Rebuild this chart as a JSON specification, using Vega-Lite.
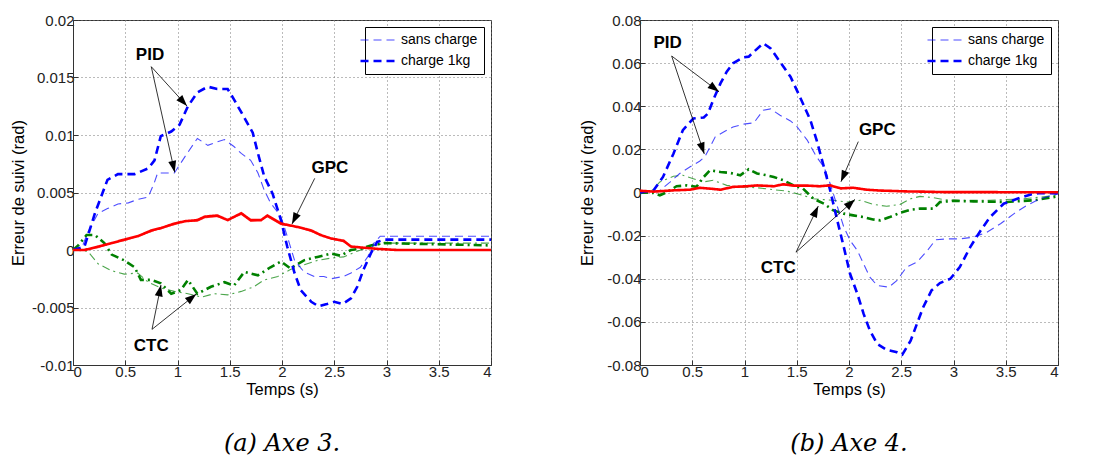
{
"$schema": "https://vega.github.io/schema/vega-lite/v6.json",
"padding": {"left": 9, "top": 12, "right": 0, "bottom": 0},
"background": "white",
"spacing": 82,
"config": {
  "view": {"stroke": "#333", "strokeWidth": 1},
  "axis": {"labelFont": "Liberation Sans", "labelFontSize": 15, "labelColor": "#222", "titleFont": "Liberation Sans", "titleFontSize": 16.5, "titleFontWeight": "normal", "titleColor": "#000", "domainColor": "#333", "tickColor": "#333", "tickSize": -5, "labelPadding": 4, "gridColor": "#777", "gridDash": [1, 3], "gridOpacity": 1, "gridWidth": 1}
},
"datasets": {
"a": [
{"ctrl":"CTC","charge":"charge 1kg","t":0,"e":0},{"ctrl":"CTC","charge":"charge 1kg","t":0.05,"e":0.0004},{"ctrl":"CTC","charge":"charge 1kg","t":0.13,"e":0.0013},{"ctrl":"CTC","charge":"charge 1kg","t":0.21,"e":0.0013},{"ctrl":"CTC","charge":"charge 1kg","t":0.3,"e":0.0006},{"ctrl":"CTC","charge":"charge 1kg","t":0.37,"e":-0.0004},{"ctrl":"CTC","charge":"charge 1kg","t":0.49,"e":-0.0009},{"ctrl":"CTC","charge":"charge 1kg","t":0.59,"e":-0.0015},{"ctrl":"CTC","charge":"charge 1kg","t":0.65,"e":-0.0026},{"ctrl":"CTC","charge":"charge 1kg","t":0.75,"e":-0.0026},{"ctrl":"CTC","charge":"charge 1kg","t":0.84,"e":-0.0029},{"ctrl":"CTC","charge":"charge 1kg","t":0.94,"e":-0.0038},{"ctrl":"CTC","charge":"charge 1kg","t":1.03,"e":-0.0035},{"ctrl":"CTC","charge":"charge 1kg","t":1.1,"e":-0.0026},{"ctrl":"CTC","charge":"charge 1kg","t":1.19,"e":-0.0038},{"ctrl":"CTC","charge":"charge 1kg","t":1.32,"e":-0.0032},{"ctrl":"CTC","charge":"charge 1kg","t":1.45,"e":-0.0028},{"ctrl":"CTC","charge":"charge 1kg","t":1.54,"e":-0.0031},{"ctrl":"CTC","charge":"charge 1kg","t":1.64,"e":-0.0019},{"ctrl":"CTC","charge":"charge 1kg","t":1.77,"e":-0.0022},{"ctrl":"CTC","charge":"charge 1kg","t":1.89,"e":-0.0015},{"ctrl":"CTC","charge":"charge 1kg","t":1.99,"e":-0.001},{"ctrl":"CTC","charge":"charge 1kg","t":2.08,"e":-0.0016},{"ctrl":"CTC","charge":"charge 1kg","t":2.21,"e":-0.0009},{"ctrl":"CTC","charge":"charge 1kg","t":2.34,"e":-0.0006},{"ctrl":"CTC","charge":"charge 1kg","t":2.47,"e":-0.0003},{"ctrl":"CTC","charge":"charge 1kg","t":2.56,"e":-0.0005},{"ctrl":"CTC","charge":"charge 1kg","t":2.66,"e":0},{"ctrl":"CTC","charge":"charge 1kg","t":2.75,"e":0.0001},{"ctrl":"CTC","charge":"charge 1kg","t":2.85,"e":0.0004},{"ctrl":"CTC","charge":"charge 1kg","t":2.98,"e":0.0006},{"ctrl":"CTC","charge":"charge 1kg","t":4,"e":0.0004},
{"ctrl":"CTC","charge":"sans charge","t":0,"e":0},{"ctrl":"CTC","charge":"sans charge","t":0.14,"e":-0.0001},{"ctrl":"CTC","charge":"sans charge","t":0.24,"e":-0.0012},{"ctrl":"CTC","charge":"sans charge","t":0.37,"e":-0.0018},{"ctrl":"CTC","charge":"sans charge","t":0.49,"e":-0.0021},{"ctrl":"CTC","charge":"sans charge","t":0.62,"e":-0.002},{"ctrl":"CTC","charge":"sans charge","t":0.72,"e":-0.0028},{"ctrl":"CTC","charge":"sans charge","t":0.84,"e":-0.0033},{"ctrl":"CTC","charge":"sans charge","t":0.97,"e":-0.0036},{"ctrl":"CTC","charge":"sans charge","t":1.1,"e":-0.0038},{"ctrl":"CTC","charge":"sans charge","t":1.23,"e":-0.0041},{"ctrl":"CTC","charge":"sans charge","t":1.35,"e":-0.0038},{"ctrl":"CTC","charge":"sans charge","t":1.48,"e":-0.0039},{"ctrl":"CTC","charge":"sans charge","t":1.61,"e":-0.0036},{"ctrl":"CTC","charge":"sans charge","t":1.73,"e":-0.0032},{"ctrl":"CTC","charge":"sans charge","t":1.83,"e":-0.0026},{"ctrl":"CTC","charge":"sans charge","t":1.96,"e":-0.0023},{"ctrl":"CTC","charge":"sans charge","t":2.08,"e":-0.0017},{"ctrl":"CTC","charge":"sans charge","t":2.21,"e":-0.0013},{"ctrl":"CTC","charge":"sans charge","t":2.34,"e":-0.0009},{"ctrl":"CTC","charge":"sans charge","t":2.47,"e":-0.0007},{"ctrl":"CTC","charge":"sans charge","t":2.59,"e":-0.0006},{"ctrl":"CTC","charge":"sans charge","t":2.72,"e":-0.0001},{"ctrl":"CTC","charge":"sans charge","t":2.85,"e":0.0003},{"ctrl":"CTC","charge":"sans charge","t":2.98,"e":0.0006},{"ctrl":"CTC","charge":"sans charge","t":4,"e":0.0006},
{"ctrl":"PID","charge":"sans charge","t":0,"e":0},{"ctrl":"PID","charge":"sans charge","t":0.08,"e":0.0001},{"ctrl":"PID","charge":"sans charge","t":0.14,"e":0.0015},{"ctrl":"PID","charge":"sans charge","t":0.24,"e":0.0032},{"ctrl":"PID","charge":"sans charge","t":0.33,"e":0.0036},{"ctrl":"PID","charge":"sans charge","t":0.43,"e":0.004},{"ctrl":"PID","charge":"sans charge","t":0.53,"e":0.0041},{"ctrl":"PID","charge":"sans charge","t":0.62,"e":0.0044},{"ctrl":"PID","charge":"sans charge","t":0.72,"e":0.0046},{"ctrl":"PID","charge":"sans charge","t":0.78,"e":0.0059},{"ctrl":"PID","charge":"sans charge","t":0.81,"e":0.0067},{"ctrl":"PID","charge":"sans charge","t":0.97,"e":0.0067},{"ctrl":"PID","charge":"sans charge","t":1.07,"e":0.0081},{"ctrl":"PID","charge":"sans charge","t":1.16,"e":0.0093},{"ctrl":"PID","charge":"sans charge","t":1.19,"e":0.0097},{"ctrl":"PID","charge":"sans charge","t":1.29,"e":0.0091},{"ctrl":"PID","charge":"sans charge","t":1.38,"e":0.0094},{"ctrl":"PID","charge":"sans charge","t":1.45,"e":0.0096},{"ctrl":"PID","charge":"sans charge","t":1.54,"e":0.009},{"ctrl":"PID","charge":"sans charge","t":1.61,"e":0.0084},{"ctrl":"PID","charge":"sans charge","t":1.7,"e":0.0078},{"ctrl":"PID","charge":"sans charge","t":1.77,"e":0.0067},{"ctrl":"PID","charge":"sans charge","t":1.83,"e":0.0052},{"ctrl":"PID","charge":"sans charge","t":1.89,"e":0.0041},{"ctrl":"PID","charge":"sans charge","t":1.99,"e":0.0029},{"ctrl":"PID","charge":"sans charge","t":2.05,"e":0.0012},{"ctrl":"PID","charge":"sans charge","t":2.12,"e":-0.0009},{"ctrl":"PID","charge":"sans charge","t":2.21,"e":-0.0019},{"ctrl":"PID","charge":"sans charge","t":2.31,"e":-0.0023},{"ctrl":"PID","charge":"sans charge","t":2.4,"e":-0.0023},{"ctrl":"PID","charge":"sans charge","t":2.47,"e":-0.0025},{"ctrl":"PID","charge":"sans charge","t":2.59,"e":-0.0023},{"ctrl":"PID","charge":"sans charge","t":2.66,"e":-0.002},{"ctrl":"PID","charge":"sans charge","t":2.75,"e":-0.0015},{"ctrl":"PID","charge":"sans charge","t":2.82,"e":-0.0006},{"ctrl":"PID","charge":"sans charge","t":2.88,"e":0.0006},{"ctrl":"PID","charge":"sans charge","t":2.94,"e":0.0012},{"ctrl":"PID","charge":"sans charge","t":4,"e":0.0012},
{"ctrl":"PID","charge":"charge 1kg","t":0,"e":0},{"ctrl":"PID","charge":"charge 1kg","t":0.11,"e":0.0003},{"ctrl":"PID","charge":"charge 1kg","t":0.21,"e":0.0032},{"ctrl":"PID","charge":"charge 1kg","t":0.33,"e":0.0061},{"ctrl":"PID","charge":"charge 1kg","t":0.43,"e":0.0066},{"ctrl":"PID","charge":"charge 1kg","t":0.59,"e":0.0066},{"ctrl":"PID","charge":"charge 1kg","t":0.72,"e":0.0071},{"ctrl":"PID","charge":"charge 1kg","t":0.78,"e":0.0078},{"ctrl":"PID","charge":"charge 1kg","t":0.84,"e":0.0099},{"ctrl":"PID","charge":"charge 1kg","t":0.94,"e":0.0103},{"ctrl":"PID","charge":"charge 1kg","t":1.02,"e":0.0109},{"ctrl":"PID","charge":"charge 1kg","t":1.1,"e":0.0125},{"ctrl":"PID","charge":"charge 1kg","t":1.19,"e":0.0137},{"ctrl":"PID","charge":"charge 1kg","t":1.29,"e":0.0142},{"ctrl":"PID","charge":"charge 1kg","t":1.38,"e":0.014},{"ctrl":"PID","charge":"charge 1kg","t":1.48,"e":0.014},{"ctrl":"PID","charge":"charge 1kg","t":1.54,"e":0.0131},{"ctrl":"PID","charge":"charge 1kg","t":1.64,"e":0.0115},{"ctrl":"PID","charge":"charge 1kg","t":1.72,"e":0.0102},{"ctrl":"PID","charge":"charge 1kg","t":1.77,"e":0.0084},{"ctrl":"PID","charge":"charge 1kg","t":1.83,"e":0.0064},{"ctrl":"PID","charge":"charge 1kg","t":1.91,"e":0.0049},{"ctrl":"PID","charge":"charge 1kg","t":1.99,"e":0.0026},{"ctrl":"PID","charge":"charge 1kg","t":2.05,"e":0.0003},{"ctrl":"PID","charge":"charge 1kg","t":2.12,"e":-0.002},{"ctrl":"PID","charge":"charge 1kg","t":2.18,"e":-0.0035},{"ctrl":"PID","charge":"charge 1kg","t":2.28,"e":-0.0045},{"ctrl":"PID","charge":"charge 1kg","t":2.35,"e":-0.0049},{"ctrl":"PID","charge":"charge 1kg","t":2.43,"e":-0.0047},{"ctrl":"PID","charge":"charge 1kg","t":2.5,"e":-0.0045},{"ctrl":"PID","charge":"charge 1kg","t":2.58,"e":-0.0047},{"ctrl":"PID","charge":"charge 1kg","t":2.66,"e":-0.0042},{"ctrl":"PID","charge":"charge 1kg","t":2.72,"e":-0.0032},{"ctrl":"PID","charge":"charge 1kg","t":2.78,"e":-0.0017},{"ctrl":"PID","charge":"charge 1kg","t":2.85,"e":-0.0003},{"ctrl":"PID","charge":"charge 1kg","t":2.91,"e":0.0007},{"ctrl":"PID","charge":"charge 1kg","t":2.98,"e":0.0009},{"ctrl":"PID","charge":"charge 1kg","t":4,"e":0.0009},
{"ctrl":"GPC","charge":"sans charge","t":0,"e":0},{"ctrl":"GPC","charge":"sans charge","t":0.11,"e":0},{"ctrl":"GPC","charge":"sans charge","t":0.24,"e":0.0002},{"ctrl":"GPC","charge":"sans charge","t":0.37,"e":0.0006},{"ctrl":"GPC","charge":"sans charge","t":0.49,"e":0.0008},{"ctrl":"GPC","charge":"sans charge","t":0.62,"e":0.0012},{"ctrl":"GPC","charge":"sans charge","t":0.75,"e":0.0016},{"ctrl":"GPC","charge":"sans charge","t":0.84,"e":0.0019},{"ctrl":"GPC","charge":"sans charge","t":0.97,"e":0.0022},{"ctrl":"GPC","charge":"sans charge","t":1.07,"e":0.0025},{"ctrl":"GPC","charge":"sans charge","t":1.19,"e":0.0025},{"ctrl":"GPC","charge":"sans charge","t":1.26,"e":0.0028},{"ctrl":"GPC","charge":"sans charge","t":1.38,"e":0.0029},{"ctrl":"GPC","charge":"sans charge","t":1.48,"e":0.0026},{"ctrl":"GPC","charge":"sans charge","t":1.61,"e":0.0031},{"ctrl":"GPC","charge":"sans charge","t":1.7,"e":0.0025},{"ctrl":"GPC","charge":"sans charge","t":1.8,"e":0.0026},{"ctrl":"GPC","charge":"sans charge","t":1.86,"e":0.0029},{"ctrl":"GPC","charge":"sans charge","t":1.99,"e":0.0022},{"ctrl":"GPC","charge":"sans charge","t":2.15,"e":0.002},{"ctrl":"GPC","charge":"sans charge","t":2.28,"e":0.0016},{"ctrl":"GPC","charge":"sans charge","t":2.37,"e":0.0013},{"ctrl":"GPC","charge":"sans charge","t":2.47,"e":0.001},{"ctrl":"GPC","charge":"sans charge","t":2.59,"e":0.0007},{"ctrl":"GPC","charge":"sans charge","t":2.66,"e":0.0003},{"ctrl":"GPC","charge":"sans charge","t":2.78,"e":0.0002},{"ctrl":"GPC","charge":"sans charge","t":2.91,"e":0.0001},{"ctrl":"GPC","charge":"sans charge","t":3.1,"e":0},{"ctrl":"GPC","charge":"sans charge","t":4,"e":0},
{"ctrl":"GPC","charge":"charge 1kg","t":0,"e":0},{"ctrl":"GPC","charge":"charge 1kg","t":0.11,"e":0},{"ctrl":"GPC","charge":"charge 1kg","t":0.24,"e":0.0003},{"ctrl":"GPC","charge":"charge 1kg","t":0.37,"e":0.0006},{"ctrl":"GPC","charge":"charge 1kg","t":0.49,"e":0.0009},{"ctrl":"GPC","charge":"charge 1kg","t":0.62,"e":0.0012},{"ctrl":"GPC","charge":"charge 1kg","t":0.75,"e":0.0017},{"ctrl":"GPC","charge":"charge 1kg","t":0.84,"e":0.0019},{"ctrl":"GPC","charge":"charge 1kg","t":0.97,"e":0.0023},{"ctrl":"GPC","charge":"charge 1kg","t":1.07,"e":0.0025},{"ctrl":"GPC","charge":"charge 1kg","t":1.19,"e":0.0026},{"ctrl":"GPC","charge":"charge 1kg","t":1.26,"e":0.0029},{"ctrl":"GPC","charge":"charge 1kg","t":1.38,"e":0.003},{"ctrl":"GPC","charge":"charge 1kg","t":1.48,"e":0.0026},{"ctrl":"GPC","charge":"charge 1kg","t":1.61,"e":0.0032},{"ctrl":"GPC","charge":"charge 1kg","t":1.7,"e":0.0026},{"ctrl":"GPC","charge":"charge 1kg","t":1.8,"e":0.0026},{"ctrl":"GPC","charge":"charge 1kg","t":1.86,"e":0.003},{"ctrl":"GPC","charge":"charge 1kg","t":1.99,"e":0.0023},{"ctrl":"GPC","charge":"charge 1kg","t":2.15,"e":0.002},{"ctrl":"GPC","charge":"charge 1kg","t":2.28,"e":0.0017},{"ctrl":"GPC","charge":"charge 1kg","t":2.37,"e":0.0013},{"ctrl":"GPC","charge":"charge 1kg","t":2.47,"e":0.001},{"ctrl":"GPC","charge":"charge 1kg","t":2.59,"e":0.0008},{"ctrl":"GPC","charge":"charge 1kg","t":2.66,"e":0.0003},{"ctrl":"GPC","charge":"charge 1kg","t":2.78,"e":0.0002},{"ctrl":"GPC","charge":"charge 1kg","t":2.91,"e":0.0001},{"ctrl":"GPC","charge":"charge 1kg","t":3.1,"e":0},{"ctrl":"GPC","charge":"charge 1kg","t":4,"e":0}
],
"b": [
{"ctrl":"CTC","charge":"charge 1kg","t":0,"e":0},{"ctrl":"CTC","charge":"charge 1kg","t":0.13,"e":-0.0002},{"ctrl":"CTC","charge":"charge 1kg","t":0.19,"e":-0.0013},{"ctrl":"CTC","charge":"charge 1kg","t":0.26,"e":0.0002},{"ctrl":"CTC","charge":"charge 1kg","t":0.35,"e":0.0029},{"ctrl":"CTC","charge":"charge 1kg","t":0.45,"e":0.0033},{"ctrl":"CTC","charge":"charge 1kg","t":0.54,"e":0.0026},{"ctrl":"CTC","charge":"charge 1kg","t":0.61,"e":0.0072},{"ctrl":"CTC","charge":"charge 1kg","t":0.67,"e":0.0103},{"ctrl":"CTC","charge":"charge 1kg","t":0.77,"e":0.0095},{"ctrl":"CTC","charge":"charge 1kg","t":0.86,"e":0.0091},{"ctrl":"CTC","charge":"charge 1kg","t":0.96,"e":0.008},{"ctrl":"CTC","charge":"charge 1kg","t":1.04,"e":0.0108},{"ctrl":"CTC","charge":"charge 1kg","t":1.12,"e":0.0088},{"ctrl":"CTC","charge":"charge 1kg","t":1.21,"e":0.008},{"ctrl":"CTC","charge":"charge 1kg","t":1.28,"e":0.0072},{"ctrl":"CTC","charge":"charge 1kg","t":1.37,"e":0.0057},{"ctrl":"CTC","charge":"charge 1kg","t":1.47,"e":0.0033},{"ctrl":"CTC","charge":"charge 1kg","t":1.56,"e":0.0018},{"ctrl":"CTC","charge":"charge 1kg","t":1.66,"e":-0.0029},{"ctrl":"CTC","charge":"charge 1kg","t":1.76,"e":-0.0052},{"ctrl":"CTC","charge":"charge 1kg","t":1.85,"e":-0.0083},{"ctrl":"CTC","charge":"charge 1kg","t":1.95,"e":-0.0098},{"ctrl":"CTC","charge":"charge 1kg","t":2.04,"e":-0.0106},{"ctrl":"CTC","charge":"charge 1kg","t":2.14,"e":-0.0114},{"ctrl":"CTC","charge":"charge 1kg","t":2.23,"e":-0.0125},{"ctrl":"CTC","charge":"charge 1kg","t":2.3,"e":-0.0129},{"ctrl":"CTC","charge":"charge 1kg","t":2.39,"e":-0.0114},{"ctrl":"CTC","charge":"charge 1kg","t":2.49,"e":-0.0094},{"ctrl":"CTC","charge":"charge 1kg","t":2.59,"e":-0.008},{"ctrl":"CTC","charge":"charge 1kg","t":2.68,"e":-0.0075},{"ctrl":"CTC","charge":"charge 1kg","t":2.81,"e":-0.0075},{"ctrl":"CTC","charge":"charge 1kg","t":2.87,"e":-0.0044},{"ctrl":"CTC","charge":"charge 1kg","t":3.0,"e":-0.0039},{"ctrl":"CTC","charge":"charge 1kg","t":3.19,"e":-0.0041},{"ctrl":"CTC","charge":"charge 1kg","t":3.51,"e":-0.0044},{"ctrl":"CTC","charge":"charge 1kg","t":3.77,"e":-0.0036},{"ctrl":"CTC","charge":"charge 1kg","t":4,"e":-0.0018},
{"ctrl":"CTC","charge":"sans charge","t":0,"e":0},{"ctrl":"CTC","charge":"sans charge","t":0.1,"e":0.0002},{"ctrl":"CTC","charge":"sans charge","t":0.19,"e":0.0049},{"ctrl":"CTC","charge":"sans charge","t":0.32,"e":0.0075},{"ctrl":"CTC","charge":"sans charge","t":0.41,"e":0.008},{"ctrl":"CTC","charge":"sans charge","t":0.51,"e":0.0064},{"ctrl":"CTC","charge":"sans charge","t":0.61,"e":0.0049},{"ctrl":"CTC","charge":"sans charge","t":0.7,"e":0.0057},{"ctrl":"CTC","charge":"sans charge","t":0.83,"e":0.0033},{"ctrl":"CTC","charge":"sans charge","t":0.96,"e":0.0026},{"ctrl":"CTC","charge":"sans charge","t":1.12,"e":0.0022},{"ctrl":"CTC","charge":"sans charge","t":1.28,"e":0.0013},{"ctrl":"CTC","charge":"sans charge","t":1.4,"e":0.0007},{"ctrl":"CTC","charge":"sans charge","t":1.53,"e":-0.0009},{"ctrl":"CTC","charge":"sans charge","t":1.66,"e":-0.0029},{"ctrl":"CTC","charge":"sans charge","t":1.76,"e":-0.0033},{"ctrl":"CTC","charge":"sans charge","t":1.85,"e":-0.0036},{"ctrl":"CTC","charge":"sans charge","t":1.98,"e":-0.0044},{"ctrl":"CTC","charge":"sans charge","t":2.11,"e":-0.0036},{"ctrl":"CTC","charge":"sans charge","t":2.23,"e":-0.0055},{"ctrl":"CTC","charge":"sans charge","t":2.36,"e":-0.0064},{"ctrl":"CTC","charge":"sans charge","t":2.49,"e":-0.0055},{"ctrl":"CTC","charge":"sans charge","t":2.59,"e":-0.0029},{"ctrl":"CTC","charge":"sans charge","t":2.68,"e":-0.0018},{"ctrl":"CTC","charge":"sans charge","t":2.81,"e":-0.0024},{"ctrl":"CTC","charge":"sans charge","t":2.91,"e":-0.0033},{"ctrl":"CTC","charge":"sans charge","t":3.06,"e":-0.0036},{"ctrl":"CTC","charge":"sans charge","t":3.35,"e":-0.0036},{"ctrl":"CTC","charge":"sans charge","t":3.67,"e":-0.0029},{"ctrl":"CTC","charge":"sans charge","t":4,"e":-0.0013},
{"ctrl":"PID","charge":"sans charge","t":0,"e":0},{"ctrl":"PID","charge":"sans charge","t":0.19,"e":0.001},{"ctrl":"PID","charge":"sans charge","t":0.29,"e":0.0049},{"ctrl":"PID","charge":"sans charge","t":0.38,"e":0.0088},{"ctrl":"PID","charge":"sans charge","t":0.48,"e":0.0119},{"ctrl":"PID","charge":"sans charge","t":0.57,"e":0.0145},{"ctrl":"PID","charge":"sans charge","t":0.62,"e":0.0165},{"ctrl":"PID","charge":"sans charge","t":0.67,"e":0.0211},{"ctrl":"PID","charge":"sans charge","t":0.72,"e":0.0258},{"ctrl":"PID","charge":"sans charge","t":0.8,"e":0.0281},{"ctrl":"PID","charge":"sans charge","t":0.89,"e":0.0304},{"ctrl":"PID","charge":"sans charge","t":0.99,"e":0.0317},{"ctrl":"PID","charge":"sans charge","t":1.09,"e":0.0323},{"ctrl":"PID","charge":"sans charge","t":1.12,"e":0.0343},{"ctrl":"PID","charge":"sans charge","t":1.18,"e":0.0382},{"ctrl":"PID","charge":"sans charge","t":1.25,"e":0.0388},{"ctrl":"PID","charge":"sans charge","t":1.34,"e":0.0358},{"ctrl":"PID","charge":"sans charge","t":1.44,"e":0.0332},{"ctrl":"PID","charge":"sans charge","t":1.5,"e":0.0307},{"ctrl":"PID","charge":"sans charge","t":1.6,"e":0.0243},{"ctrl":"PID","charge":"sans charge","t":1.69,"e":0.0165},{"ctrl":"PID","charge":"sans charge","t":1.76,"e":0.0118},{"ctrl":"PID","charge":"sans charge","t":1.82,"e":0.0041},{"ctrl":"PID","charge":"sans charge","t":1.88,"e":-0.0052},{"ctrl":"PID","charge":"sans charge","t":1.95,"e":-0.016},{"ctrl":"PID","charge":"sans charge","t":2.01,"e":-0.0222},{"ctrl":"PID","charge":"sans charge","t":2.08,"e":-0.0269},{"ctrl":"PID","charge":"sans charge","t":2.14,"e":-0.0331},{"ctrl":"PID","charge":"sans charge","t":2.2,"e":-0.0393},{"ctrl":"PID","charge":"sans charge","t":2.27,"e":-0.0431},{"ctrl":"PID","charge":"sans charge","t":2.38,"e":-0.0439},{"ctrl":"PID","charge":"sans charge","t":2.46,"e":-0.0408},{"ctrl":"PID","charge":"sans charge","t":2.55,"e":-0.0346},{"ctrl":"PID","charge":"sans charge","t":2.65,"e":-0.0323},{"ctrl":"PID","charge":"sans charge","t":2.75,"e":-0.0269},{"ctrl":"PID","charge":"sans charge","t":2.83,"e":-0.0219},{"ctrl":"PID","charge":"sans charge","t":2.94,"e":-0.0215},{"ctrl":"PID","charge":"sans charge","t":3.06,"e":-0.0215},{"ctrl":"PID","charge":"sans charge","t":3.19,"e":-0.0207},{"ctrl":"PID","charge":"sans charge","t":3.32,"e":-0.0184},{"ctrl":"PID","charge":"sans charge","t":3.45,"e":-0.0145},{"ctrl":"PID","charge":"sans charge","t":3.58,"e":-0.0098},{"ctrl":"PID","charge":"sans charge","t":3.7,"e":-0.006},{"ctrl":"PID","charge":"sans charge","t":3.83,"e":-0.0029},{"ctrl":"PID","charge":"sans charge","t":4,"e":-0.0005},
{"ctrl":"PID","charge":"charge 1kg","t":0,"e":0},{"ctrl":"PID","charge":"charge 1kg","t":0.13,"e":0.001},{"ctrl":"PID","charge":"charge 1kg","t":0.22,"e":0.0072},{"ctrl":"PID","charge":"charge 1kg","t":0.32,"e":0.018},{"ctrl":"PID","charge":"charge 1kg","t":0.41,"e":0.0289},{"ctrl":"PID","charge":"charge 1kg","t":0.51,"e":0.0343},{"ctrl":"PID","charge":"charge 1kg","t":0.61,"e":0.0348},{"ctrl":"PID","charge":"charge 1kg","t":0.65,"e":0.0366},{"ctrl":"PID","charge":"charge 1kg","t":0.7,"e":0.0428},{"ctrl":"PID","charge":"charge 1kg","t":0.77,"e":0.0506},{"ctrl":"PID","charge":"charge 1kg","t":0.83,"e":0.056},{"ctrl":"PID","charge":"charge 1kg","t":0.89,"e":0.0599},{"ctrl":"PID","charge":"charge 1kg","t":0.99,"e":0.0627},{"ctrl":"PID","charge":"charge 1kg","t":1.04,"e":0.063},{"ctrl":"PID","charge":"charge 1kg","t":1.09,"e":0.0653},{"ctrl":"PID","charge":"charge 1kg","t":1.18,"e":0.0692},{"ctrl":"PID","charge":"charge 1kg","t":1.25,"e":0.0668},{"ctrl":"PID","charge":"charge 1kg","t":1.34,"e":0.0606},{"ctrl":"PID","charge":"charge 1kg","t":1.44,"e":0.0537},{"ctrl":"PID","charge":"charge 1kg","t":1.53,"e":0.0444},{"ctrl":"PID","charge":"charge 1kg","t":1.63,"e":0.0336},{"ctrl":"PID","charge":"charge 1kg","t":1.69,"e":0.0243},{"ctrl":"PID","charge":"charge 1kg","t":1.76,"e":0.0118},{"ctrl":"PID","charge":"charge 1kg","t":1.82,"e":0.001},{"ctrl":"PID","charge":"charge 1kg","t":1.88,"e":-0.0114},{"ctrl":"PID","charge":"charge 1kg","t":1.95,"e":-0.0253},{"ctrl":"PID","charge":"charge 1kg","t":2.01,"e":-0.0377},{"ctrl":"PID","charge":"charge 1kg","t":2.08,"e":-0.047},{"ctrl":"PID","charge":"charge 1kg","t":2.14,"e":-0.0563},{"ctrl":"PID","charge":"charge 1kg","t":2.2,"e":-0.064},{"ctrl":"PID","charge":"charge 1kg","t":2.27,"e":-0.0702},{"ctrl":"PID","charge":"charge 1kg","t":2.36,"e":-0.073},{"ctrl":"PID","charge":"charge 1kg","t":2.46,"e":-0.0741},{"ctrl":"PID","charge":"charge 1kg","t":2.51,"e":-0.0752},{"ctrl":"PID","charge":"charge 1kg","t":2.59,"e":-0.0687},{"ctrl":"PID","charge":"charge 1kg","t":2.65,"e":-0.0609},{"ctrl":"PID","charge":"charge 1kg","t":2.71,"e":-0.0532},{"ctrl":"PID","charge":"charge 1kg","t":2.79,"e":-0.0454},{"ctrl":"PID","charge":"charge 1kg","t":2.87,"e":-0.042},{"ctrl":"PID","charge":"charge 1kg","t":2.97,"e":-0.04},{"ctrl":"PID","charge":"charge 1kg","t":3.06,"e":-0.0346},{"ctrl":"PID","charge":"charge 1kg","t":3.16,"e":-0.0253},{"ctrl":"PID","charge":"charge 1kg","t":3.26,"e":-0.0176},{"ctrl":"PID","charge":"charge 1kg","t":3.35,"e":-0.0114},{"ctrl":"PID","charge":"charge 1kg","t":3.48,"e":-0.0052},{"ctrl":"PID","charge":"charge 1kg","t":3.61,"e":-0.0029},{"ctrl":"PID","charge":"charge 1kg","t":3.74,"e":-0.0009},{"ctrl":"PID","charge":"charge 1kg","t":3.83,"e":-0.0002},{"ctrl":"PID","charge":"charge 1kg","t":4,"e":-0.0005},
{"ctrl":"GPC","charge":"sans charge","t":0,"e":0.0007},{"ctrl":"GPC","charge":"sans charge","t":0.13,"e":0.0004},{"ctrl":"GPC","charge":"sans charge","t":0.32,"e":0.0009},{"ctrl":"GPC","charge":"sans charge","t":0.48,"e":0.0012},{"ctrl":"GPC","charge":"sans charge","t":0.57,"e":0.002},{"ctrl":"GPC","charge":"sans charge","t":0.67,"e":0.0017},{"ctrl":"GPC","charge":"sans charge","t":0.77,"e":0.0012},{"ctrl":"GPC","charge":"sans charge","t":0.89,"e":0.0024},{"ctrl":"GPC","charge":"sans charge","t":1.02,"e":0.0027},{"ctrl":"GPC","charge":"sans charge","t":1.12,"e":0.0031},{"ctrl":"GPC","charge":"sans charge","t":1.28,"e":0.0027},{"ctrl":"GPC","charge":"sans charge","t":1.37,"e":0.0036},{"ctrl":"GPC","charge":"sans charge","t":1.47,"e":0.003},{"ctrl":"GPC","charge":"sans charge","t":1.6,"e":0.003},{"ctrl":"GPC","charge":"sans charge","t":1.72,"e":0.0027},{"ctrl":"GPC","charge":"sans charge","t":1.82,"e":0.0031},{"ctrl":"GPC","charge":"sans charge","t":1.92,"e":0.0018},{"ctrl":"GPC","charge":"sans charge","t":2.04,"e":0.002},{"ctrl":"GPC","charge":"sans charge","t":2.17,"e":0.0012},{"ctrl":"GPC","charge":"sans charge","t":2.3,"e":0.0008},{"ctrl":"GPC","charge":"sans charge","t":2.43,"e":0.0006},{"ctrl":"GPC","charge":"sans charge","t":2.55,"e":0.0005},{"ctrl":"GPC","charge":"sans charge","t":2.71,"e":0.0003},{"ctrl":"GPC","charge":"sans charge","t":2.87,"e":0.0002},{"ctrl":"GPC","charge":"sans charge","t":4,"e":0.0001},
{"ctrl":"GPC","charge":"charge 1kg","t":0,"e":0.0008},{"ctrl":"GPC","charge":"charge 1kg","t":0.13,"e":0.0004},{"ctrl":"GPC","charge":"charge 1kg","t":0.32,"e":0.001},{"ctrl":"GPC","charge":"charge 1kg","t":0.48,"e":0.0013},{"ctrl":"GPC","charge":"charge 1kg","t":0.57,"e":0.0022},{"ctrl":"GPC","charge":"charge 1kg","t":0.67,"e":0.0018},{"ctrl":"GPC","charge":"charge 1kg","t":0.77,"e":0.0013},{"ctrl":"GPC","charge":"charge 1kg","t":0.89,"e":0.0026},{"ctrl":"GPC","charge":"charge 1kg","t":1.02,"e":0.0029},{"ctrl":"GPC","charge":"charge 1kg","t":1.12,"e":0.0033},{"ctrl":"GPC","charge":"charge 1kg","t":1.28,"e":0.0029},{"ctrl":"GPC","charge":"charge 1kg","t":1.37,"e":0.0038},{"ctrl":"GPC","charge":"charge 1kg","t":1.47,"e":0.0032},{"ctrl":"GPC","charge":"charge 1kg","t":1.6,"e":0.0032},{"ctrl":"GPC","charge":"charge 1kg","t":1.72,"e":0.0029},{"ctrl":"GPC","charge":"charge 1kg","t":1.82,"e":0.0033},{"ctrl":"GPC","charge":"charge 1kg","t":1.92,"e":0.0019},{"ctrl":"GPC","charge":"charge 1kg","t":2.04,"e":0.0022},{"ctrl":"GPC","charge":"charge 1kg","t":2.17,"e":0.0013},{"ctrl":"GPC","charge":"charge 1kg","t":2.3,"e":0.0009},{"ctrl":"GPC","charge":"charge 1kg","t":2.43,"e":0.0007},{"ctrl":"GPC","charge":"charge 1kg","t":2.55,"e":0.0005},{"ctrl":"GPC","charge":"charge 1kg","t":2.71,"e":0.0004},{"ctrl":"GPC","charge":"charge 1kg","t":2.87,"e":0.0002},{"ctrl":"GPC","charge":"charge 1kg","t":4,"e":0.0001}
],
"arrA": [
{"t":1.091,"e":0.01252,"t2":0.749,"e2":0.01594,"ang":137.8},
{"t":0.973,"e":0.00676,"t2":0.749,"e2":0.01594,"ang":167.5},
{"t":2.096,"e":0.00226,"t2":2.313,"e2":0.00623,"ang":206.4},
{"t":0.842,"e":-0.00304,"t2":0.756,"e2":-0.0069,"ang":11.5},
{"t":1.18,"e":-0.00383,"t2":0.756,"e2":-0.0069,"ang":51.4}
],
"labA": [
{"t":0.737,"e":0.01696,"label":"PID"},
{"t":2.459,"e":0.00713,"label":"GPC"},
{"t":0.749,"e":-0.00832,"label":"CTC"}
],
"arrB": [
{"t":0.756,"e":0.0467,"t2":0.303,"e2":0.0633,"ang":127.1},
{"t":0.615,"e":0.0179,"t2":0.303,"e2":0.0633,"ang":161.6},
{"t":1.923,"e":0.005,"t2":2.089,"e2":0.0236,"ang":203.4},
{"t":1.706,"e":-0.0063,"t2":1.493,"e2":-0.0277,"ang":25.7},
{"t":2.057,"e":-0.0032,"t2":1.493,"e2":-0.0277,"ang":48.1}
],
"labB": [
{"t":0.265,"e":0.0695,"label":"PID"},
{"t":2.271,"e":0.029,"label":"GPC"},
{"t":1.323,"e":-0.0352,"label":"CTC"}
]
},
"resolve": {"scale": {"strokeWidth": "independent", "opacity": "independent", "color": "independent", "strokeDash": "independent"}, "legend": {"strokeWidth": "independent", "opacity": "independent"}},
"hconcat": [
{
"width": 418, "height": 345,
"title": {"text": "(a) Axe 3.", "orient": "bottom", "font": "DejaVu Serif", "fontStyle": "italic", "fontWeight": "normal", "fontSize": 24, "offset": 34, "anchor": "middle", "frame": "group", "color": "#000"},
"encoding": {
  "x": {"field": "t", "type": "quantitative", "scale": {"domain": [0, 4], "nice": false, "zero": false}, "axis": {"title": "Temps (s)", "values": [0, 0.5, 1, 1.5, 2, 2.5, 3, 3.5, 4], "format": "~f", "titlePadding": 2}},
  "y": {"field": "e", "type": "quantitative", "scale": {"domain": [-0.01, 0.02], "nice": false, "zero": false}, "axis": {"title": "Erreur de suivi (rad)", "values": [-0.01, -0.005, 0, 0.005, 0.01, 0.015, 0.02], "format": "~f", "labelExpr": "replace(datum.label, '\u2212', '-')", "titlePadding": 5}}
},
"layer": [
  {"data": {"name": "a"}, "mark": {"type": "line"},
   "encoding": {
     "color": {"field": "ctrl", "type": "nominal", "scale": {"domain": ["PID", "CTC", "GPC"], "range": ["#0000ff", "#008000", "#ff0000"]}, "legend": null},
     "strokeDash": {"field": "ctrl", "type": "nominal", "scale": {"domain": ["PID", "CTC", "GPC"], "range": [[8, 5], [8, 4, 2, 4], [1, 0]]}, "legend": null},
     "strokeWidth": {"field": "charge", "type": "nominal", "scale": {"domain": ["sans charge", "charge 1kg"], "range": [1.1, 2.6]}, "legend": {"title": null, "orient": "top-right", "offset": 7, "strokeColor": "#000", "fillColor": "#fff", "padding": 6, "rowPadding": 7, "symbolType": "M-3.5,0L3.5,0", "symbolSize": 100, "symbolStrokeColor": "#0000ff", "symbolFillColor": "transparent", "symbolDash": [8, 5], "labelOffset": 16, "labelFont": "Liberation Sans", "labelFontSize": 14, "labelColor": "#000"}},
     "opacity": {"field": "charge", "type": "nominal", "scale": {"domain": ["sans charge", "charge 1kg"], "range": [0.7, 1]}, "legend": {"title": null, "orient": "top-right", "offset": 7, "strokeColor": "#000", "fillColor": "#fff", "padding": 6, "rowPadding": 7, "symbolType": "M-3.5,0L3.5,0", "symbolSize": 100, "symbolStrokeColor": "#0000ff", "symbolFillColor": "transparent", "symbolDash": [8, 5], "labelOffset": 16, "labelFont": "Liberation Sans", "labelFontSize": 14, "labelColor": "#000"}}
   }},
  {"data": {"name": "arrA"}, "mark": {"type": "rule", "color": "#000", "strokeWidth": 0.8}, "encoding": {"x2": {"field": "t2"}, "y2": {"field": "e2"}}},
  {"data": {"name": "arrA"}, "mark": {"type": "point", "shape": "M0,0L-0.7,2L0.7,2Z", "filled": true, "color": "#000", "size": 130, "opacity": 1}, "encoding": {"angle": {"field": "ang", "type": "quantitative", "scale": null}}},
  {"data": {"name": "labA"}, "mark": {"type": "text", "font": "Liberation Sans", "fontWeight": "bold", "fontSize": 17, "color": "#000"}, "encoding": {"text": {"field": "label"}}}
]
},
{
"width": 418, "height": 345,
"title": {"text": "(b) Axe 4.", "orient": "bottom", "font": "DejaVu Serif", "fontStyle": "italic", "fontWeight": "normal", "fontSize": 24, "offset": 34, "anchor": "middle", "frame": "group", "color": "#000"},
"encoding": {
  "x": {"field": "t", "type": "quantitative", "scale": {"domain": [0, 4], "nice": false, "zero": false}, "axis": {"title": "Temps (s)", "values": [0, 0.5, 1, 1.5, 2, 2.5, 3, 3.5, 4], "format": "~f", "titlePadding": 2}},
  "y": {"field": "e", "type": "quantitative", "scale": {"domain": [-0.08, 0.08], "nice": false, "zero": false}, "axis": {"title": "Erreur de suivi (rad)", "values": [-0.08, -0.06, -0.04, -0.02, 0, 0.02, 0.04, 0.06, 0.08], "format": "~f", "labelExpr": "replace(datum.label, '\u2212', '-')", "titlePadding": 11}}
},
"layer": [
  {"data": {"name": "b"}, "mark": {"type": "line"},
   "encoding": {
     "color": {"field": "ctrl", "type": "nominal", "scale": {"domain": ["PID", "CTC", "GPC"], "range": ["#0000ff", "#008000", "#ff0000"]}, "legend": null},
     "strokeDash": {"field": "ctrl", "type": "nominal", "scale": {"domain": ["PID", "CTC", "GPC"], "range": [[8, 5], [8, 4, 2, 4], [1, 0]]}, "legend": null},
     "strokeWidth": {"field": "charge", "type": "nominal", "scale": {"domain": ["sans charge", "charge 1kg"], "range": [1.1, 2.6]}, "legend": {"title": null, "orient": "top-right", "offset": 7, "strokeColor": "#000", "fillColor": "#fff", "padding": 6, "rowPadding": 7, "symbolType": "M-3.5,0L3.5,0", "symbolSize": 100, "symbolStrokeColor": "#0000ff", "symbolFillColor": "transparent", "symbolDash": [8, 5], "labelOffset": 16, "labelFont": "Liberation Sans", "labelFontSize": 14, "labelColor": "#000"}},
     "opacity": {"field": "charge", "type": "nominal", "scale": {"domain": ["sans charge", "charge 1kg"], "range": [0.7, 1]}, "legend": {"title": null, "orient": "top-right", "offset": 7, "strokeColor": "#000", "fillColor": "#fff", "padding": 6, "rowPadding": 7, "symbolType": "M-3.5,0L3.5,0", "symbolSize": 100, "symbolStrokeColor": "#0000ff", "symbolFillColor": "transparent", "symbolDash": [8, 5], "labelOffset": 16, "labelFont": "Liberation Sans", "labelFontSize": 14, "labelColor": "#000"}}
   }},
  {"data": {"name": "arrB"}, "mark": {"type": "rule", "color": "#000", "strokeWidth": 0.8}, "encoding": {"x2": {"field": "t2"}, "y2": {"field": "e2"}}},
  {"data": {"name": "arrB"}, "mark": {"type": "point", "shape": "M0,0L-0.7,2L0.7,2Z", "filled": true, "color": "#000", "size": 130, "opacity": 1}, "encoding": {"angle": {"field": "ang", "type": "quantitative", "scale": null}}},
  {"data": {"name": "labB"}, "mark": {"type": "text", "font": "Liberation Sans", "fontWeight": "bold", "fontSize": 17, "color": "#000"}, "encoding": {"text": {"field": "label"}}}
]
}
]
}
